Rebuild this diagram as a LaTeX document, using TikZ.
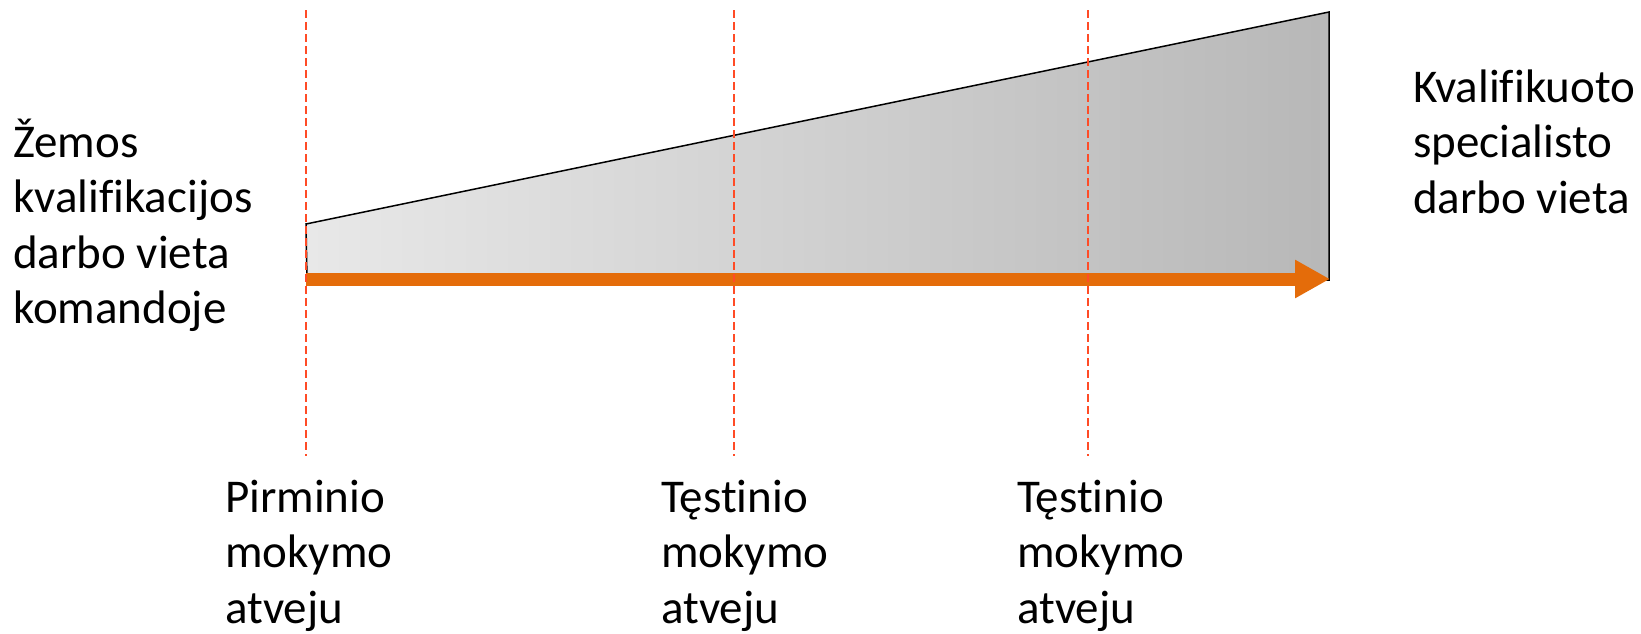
\documentclass[tikz,border=0pt]{standalone}
\usepackage{fontspec}
\setmainfont{Carlito}[Ligatures={NoCommon,NoRare}]
\usetikzlibrary{arrows.meta}
\definecolor{arrorange}{HTML}{E46C0A}
\definecolor{dashred}{HTML}{FF4B26}
\tikzset{
  lbl/.style={anchor=base west, align=left, inner sep=0pt, font={\fontsize{47}{55.5}\selectfont}},
  guide/.style={draw=dashred, line width=1.5pt, dash pattern=on 8pt off 4pt},
  wedge/.style={draw=black, line width=1.5pt, line join=miter, shading=axis, left color=black!9, right color=black!28},
  progress/.style={draw=arrorange, line width=13pt, -{Triangle[length=35pt,width=36pt]}}
}
\begin{document}
\begin{tikzpicture}[x=1pt,y=-1pt]
\useasboundingbox (0,0) rectangle (1641,633);
% wedge corners
\coordinate (tl) at (306,224);
\coordinate (tr) at (1329,12);
\coordinate (br) at (1329,280);
\coordinate (bl) at (307,280);
\path[wedge] (tl) -- (tr) -- (br) -- (bl) -- cycle;
% arrow
\coordinate (as) at (306,279);
\coordinate (ae) at (1330,279);
\draw[progress] (as) -- (ae);
% guides
\coordinate (g1t) at (306,10);
\coordinate (g1b) at (306,456);
\coordinate (g2t) at (734,10);
\coordinate (g2b) at (734,456);
\coordinate (g3t) at (1088,10);
\coordinate (g3b) at (1088,456);
\draw[guide] (g1t) -- (g1b);
\draw[guide] (g2t) -- (g2b);
\draw[guide] (g3t) -- (g3b);
% labels (anchor = baseline of last line)
\node[lbl] (low) at (13,323.5) {Žemos\\kvalifikacijos\\darbo vieta\\komandoje};
\node[lbl] (high) at (1413,213) {Kvalifikuoto\\specialisto\\darbo vieta};
\node[lbl] (p1) at (225,623) {Pirminio\\mokymo\\atveju};
\node[lbl] (p2) at (661,623) {Tęstinio\\mokymo\\atveju};
\node[lbl] (p3) at (1017,623) {Tęstinio\\mokymo\\atveju};
\end{tikzpicture}
\end{document}
